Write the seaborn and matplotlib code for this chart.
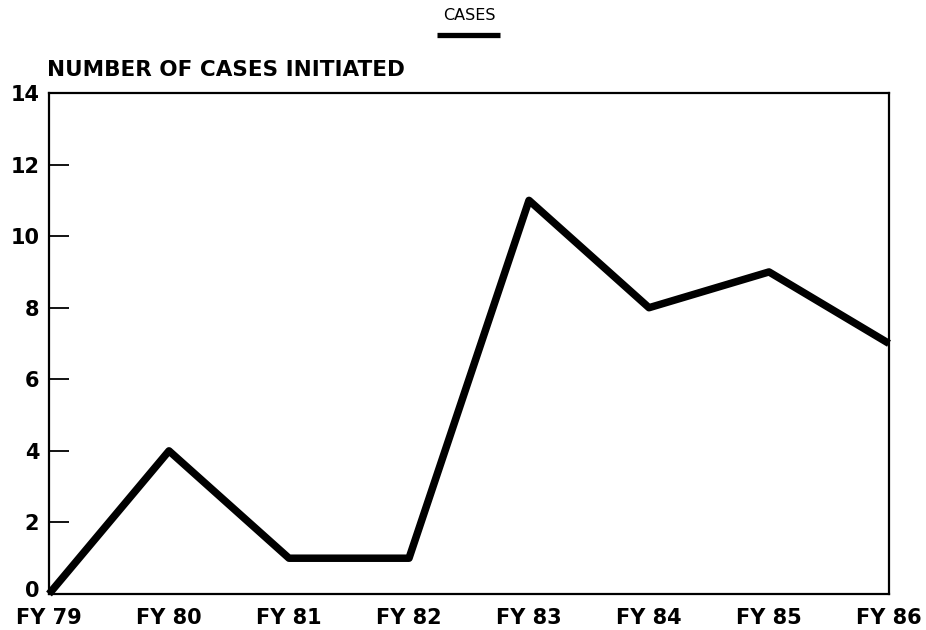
import matplotlib
matplotlib.use("Agg")
import matplotlib.pyplot as plt
import matplotlib.transforms as mtransforms
import seaborn as sns
import pandas as pd
from matplotlib.lines import Line2D

years = ["FY 79", "FY 80", "FY 81", "FY 82", "FY 83", "FY 84", "FY 85", "FY 86"]
cases = [0, 4, 1, 1, 11, 8, 9, 7]
y_ticks = [0, 2, 4, 6, 8, 10, 12, 14]

sns.set_theme(style="white")
plt.rcParams['font.family'] = ['DejaVu Sans']
plt.rcParams['text.color'] = 'black'

df = pd.DataFrame({"idx": range(len(years)), "cases": cases})

W, H = 926, 630
fig = plt.figure(figsize=(W / 100, H / 100), dpi=100)
left, right, top, bottom = 49, 889, 93, 594
ax = fig.add_axes([left / W, (H - bottom) / H, (right - left) / W, (bottom - top) / H])

sns.lineplot(data=df, x="idx", y="cases", ax=ax, color="black", linewidth=5.4,
             solid_joinstyle="round", solid_capstyle="butt", clip_on=False)

ax.set_xlim(0, len(years) - 1)
ax.set_ylim(0, 14)
ax.set_xticks(range(len(years)))
ax.set_xticklabels(years)
ax.set_yticks(y_ticks)
ax.set_xlabel("")
ax.set_ylabel("")

for s in ax.spines.values():
    s.set_visible(True)
    s.set_color("black")
    s.set_linewidth(1.6)

ax.tick_params(axis="y", direction="in", length=14.5, width=1.3, color="black",
               labelsize=15, pad=7, left=True, labelcolor="black")
ax.tick_params(axis="x", length=0, labelsize=15, pad=10, labelcolor="black")
for lab in ax.get_xticklabels() + ax.get_yticklabels():
    lab.set_fontweight("bold")

# lift the "0" label slightly as in the reference
zero_lab = ax.get_yticklabels()[0]
zero_lab.set_transform(zero_lab.get_transform() +
                       mtransforms.ScaledTranslation(0, 5 / 100, fig.dpi_scale_trans))

fig.text(47 / W, 1 - 70 / H, "NUMBER OF CASES INITIATED",
         fontsize=15.5, ha="left", va="center", color="black", fontweight="bold")

# legend
fig.text(469 / W, 1 - 16 / H, "CASES", fontsize=11.5, ha="center", va="center", color="black")
fig.add_artist(Line2D([437 / W, 500 / W], [1 - 34.5 / H, 1 - 34.5 / H],
                      color="black", linewidth=3.8, solid_capstyle="butt"))

fig.savefig("out.png", dpi=100)
